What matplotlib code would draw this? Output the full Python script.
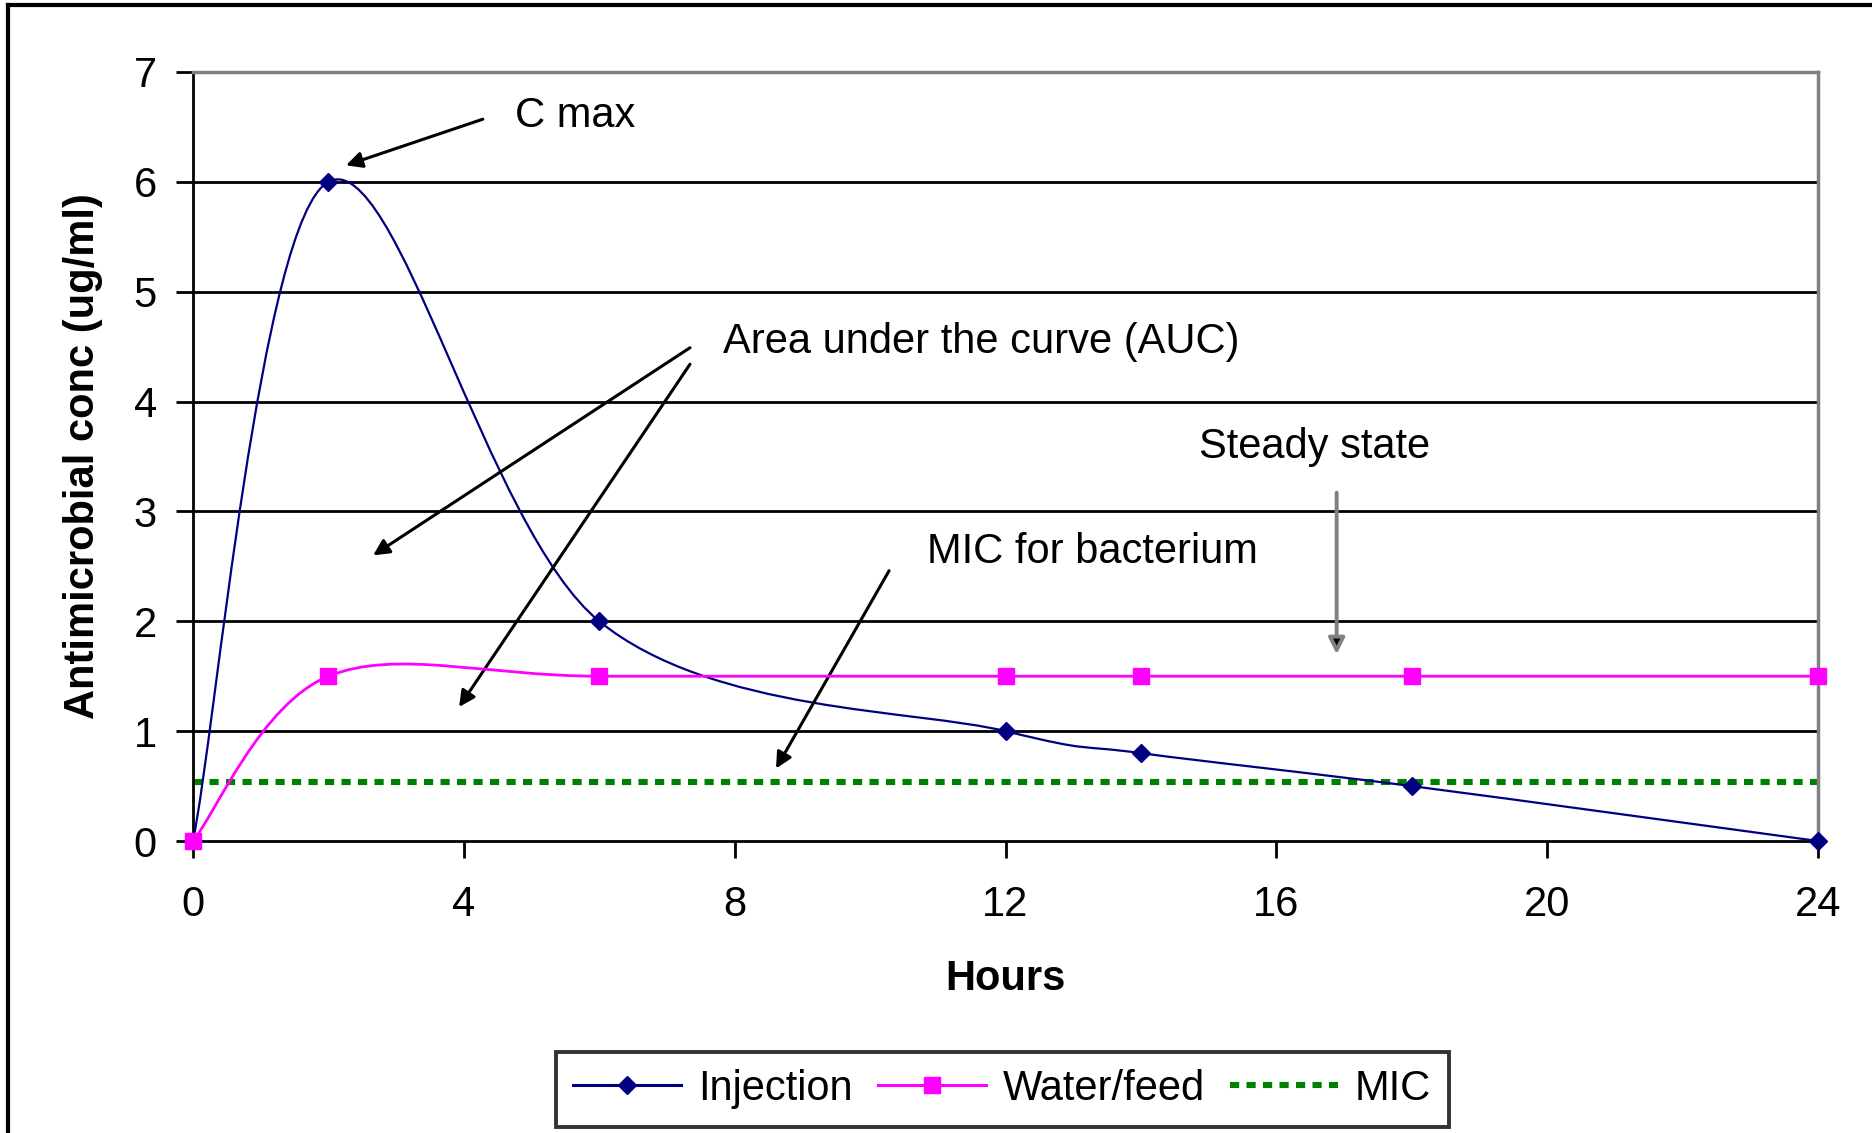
import matplotlib.pyplot as plt
import numpy as np
from matplotlib.path import Path
from matplotlib.patches import PathPatch
from matplotlib.lines import Line2D

plt.rcParams['font.family'] = ['Liberation Sans', 'DejaVu Sans']

# data
hours = [0, 2, 6, 12, 14, 18, 24]
injection = [0, 6, 2, 1, 0.8, 0.5, 0]
water_feed = [0, 1.5, 1.5, 1.5, 1.5, 1.5, 1.5]
mic_level = 0.54
x_ticks = [0, 4, 8, 12, 16, 20, 24]
y_ticks = [0, 1, 2, 3, 4, 5, 6, 7]

NAVY = '#000080'
MAGENTA = '#FF00FF'
GREEN = '#008000'
GRAY = '#808080'


def smooth_path(xs, ys):
    # Excel style "smoothed line": bezier segments through the points
    pts = np.column_stack([xs, ys]).astype(float)
    n = len(pts)
    verts = [pts[0]]
    codes = [Path.MOVETO]
    for i in range(n - 1):
        p0 = pts[i - 1] if i > 0 else pts[i]
        p3 = pts[i + 2] if i + 2 < n else pts[i + 1]
        c1 = pts[i] + (pts[i + 1] - p0) / 6
        c2 = pts[i + 1] - (p3 - pts[i]) / 6
        verts += [c1, c2, pts[i + 1]]
        codes += [Path.CURVE4] * 3
    return Path(verts, codes)


fig = plt.figure(figsize=(18.72, 11.33), dpi=100)
ax = fig.add_axes([0.1031, 0.2577, 0.8681, 0.6788])

ax.set_xlim(0, 24)
ax.set_ylim(0, 7)

# horizontal gridlines
for y in y_ticks[1:-1]:
    ax.axhline(y, color='black', lw=2.0, zorder=1)

# MIC line
ax.hlines(mic_level, hours[0], hours[-1], colors=GREEN, lw=4.4,
          linestyles=(0, (1.5, 1.2)), zorder=2)

# injection
ax.add_patch(PathPatch(smooth_path(hours, injection), fill=False, ec=NAVY,
                       lw=1.6, zorder=3, clip_on=False))
ax.plot(hours, injection, 'D', color=NAVY, ms=9, zorder=4, clip_on=False)

# water / feed
ax.add_patch(PathPatch(smooth_path(hours, water_feed), fill=False, ec=MAGENTA,
                       lw=2.0, zorder=5, clip_on=False))
ax.plot(hours, water_feed, 's', color=MAGENTA, ms=12, zorder=6, clip_on=False)

# spines and ticks
for side in ['left', 'bottom']:
    ax.spines[side].set_color('black')
    ax.spines[side].set_linewidth(2.0)
for side in ['top', 'right']:
    ax.spines[side].set_color(GRAY)
    ax.spines[side].set_linewidth(2.5)

ax.set_xticks(x_ticks)
ax.set_yticks(y_ticks)
ax.tick_params(axis='both', direction='out', length=12, width=2.0,
               labelsize=30, colors='black')
ax.tick_params(axis='x', pad=20)
ax.tick_params(axis='y', pad=14)

ax.set_xlabel('Hours', fontsize=30, fontweight='bold', labelpad=24)
ax.set_ylabel('Antimicrobial conc (ug/ml)', fontsize=30, fontweight='bold',
              labelpad=22)

# annotations
arrow_kw = dict(arrowstyle='-|>', color='black', lw=2.2, mutation_scale=24,
                shrinkA=0, shrinkB=0)
ax.annotate('', xy=(2.26, 6.15), xytext=(4.28, 6.57), arrowprops=arrow_kw)
ax.text(4.76, 6.6, 'C max', fontsize=30, ha='left', va='center')

ax.annotate('', xy=(2.66, 2.60), xytext=(7.34, 4.49), arrowprops=arrow_kw)
ax.annotate('', xy=(3.93, 1.22), xytext=(7.34, 4.34), arrowprops=arrow_kw)
ax.text(7.83, 4.54, 'Area under the curve (AUC)', fontsize=30, ha='left',
        va='center')

ax.annotate('', xy=(16.89, 1.70), xytext=(16.89, 3.17),
            arrowprops=dict(arrowstyle='-|>', color=GRAY, fc='black', lw=2.8,
                            mutation_scale=24, shrinkA=0, shrinkB=0))
ax.text(14.85, 3.59, 'Steady state', fontsize=30, ha='left', va='center')

ax.annotate('', xy=(8.61, 0.66), xytext=(10.28, 2.46), arrowprops=arrow_kw)
ax.text(10.84, 2.63, 'MIC for bacterium', fontsize=30, ha='left', va='center')

# legend
handles = [
    Line2D([], [], color=NAVY, lw=2.2, marker='D', ms=9),
    Line2D([], [], color=MAGENTA, lw=2.2, marker='s', ms=12),
    Line2D([], [], color=GREEN, lw=4.4, linestyle=(0, (1.5, 1.2))),
]
leg = fig.legend(handles, ['Injection', 'Water/feed', 'MIC'], ncol=3,
                 loc='center', bbox_to_anchor=(0.5353, 0.0388), fontsize=30,
                 frameon=True, fancybox=False, edgecolor='black',
                 handlelength=2.6, handletextpad=0.4, columnspacing=0.6,
                 borderpad=0.42, borderaxespad=0)
leg.get_frame().set_linewidth(2.8)

# outer frame (top and left edges visible)
fig.add_artist(Line2D([0.0045, 1.0], [0.9956, 0.9956], color='black', lw=3,
                      transform=fig.transFigure))
fig.add_artist(Line2D([0.0045, 0.0045], [0.0, 0.9956], color='black', lw=3,
                      transform=fig.transFigure))

fig.savefig('out.png', dpi=100, facecolor='white')
